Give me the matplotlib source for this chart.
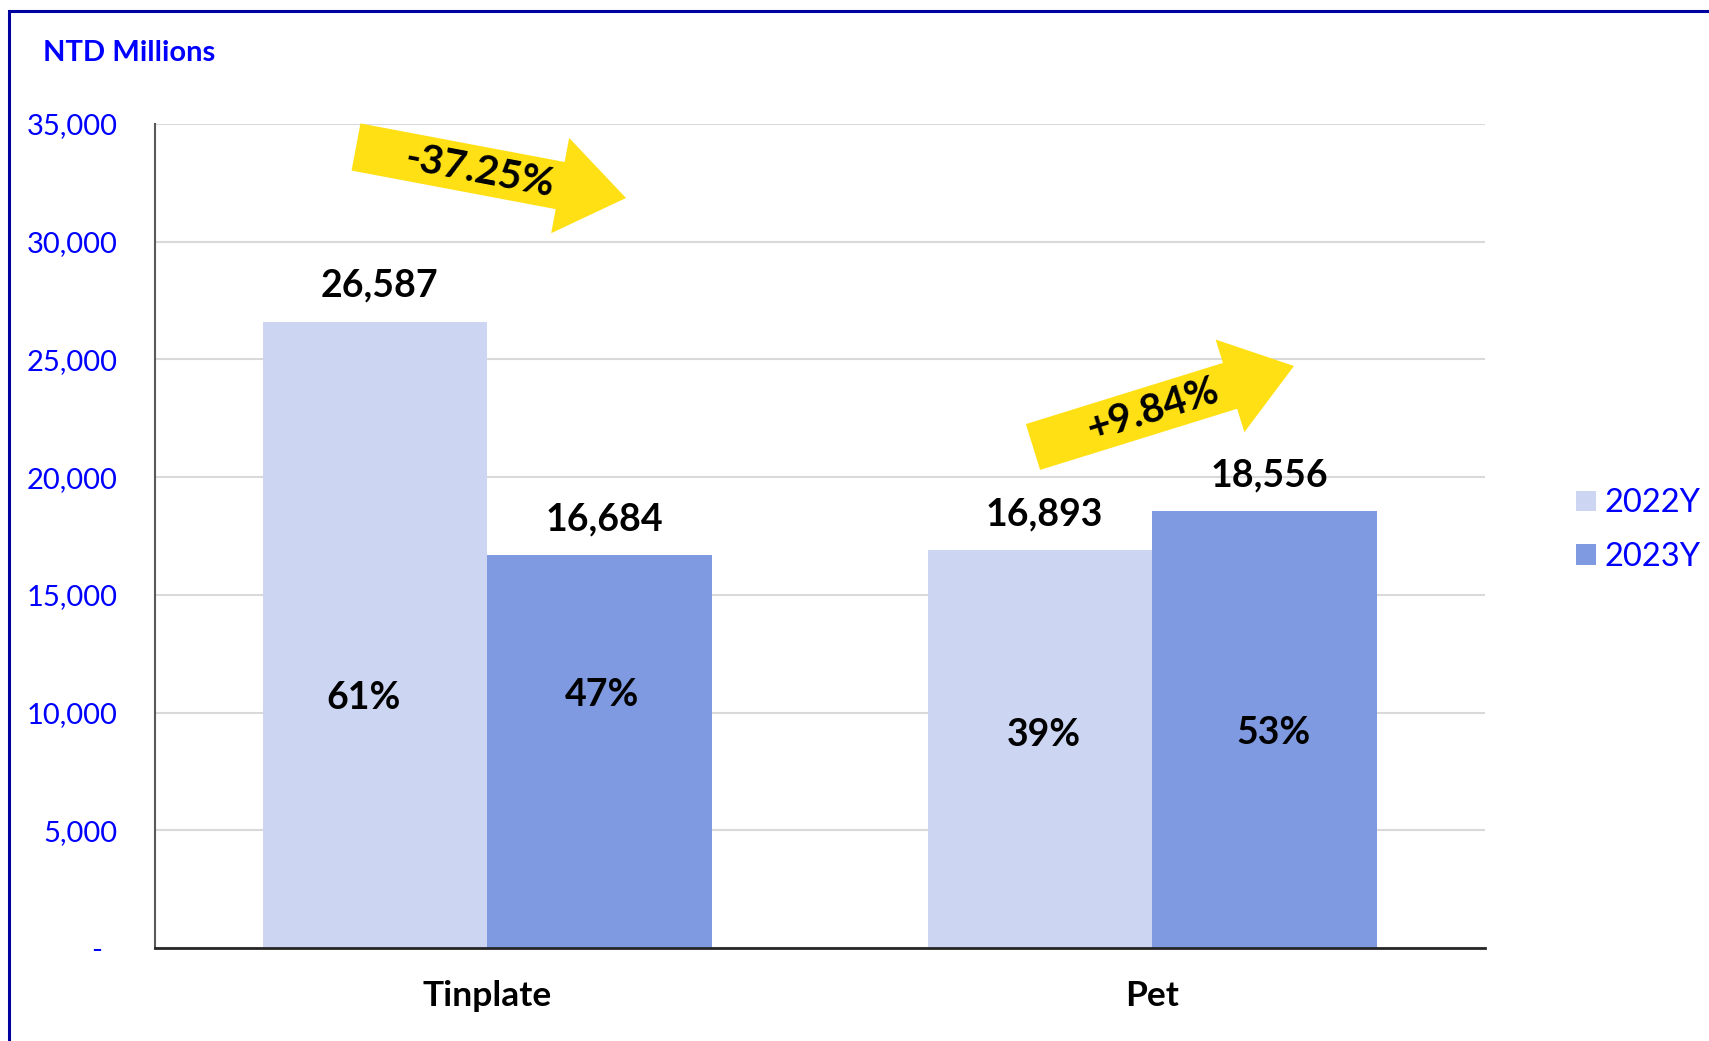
import matplotlib
matplotlib.use("Agg")
import matplotlib.pyplot as plt
import numpy as np
from matplotlib.patches import Polygon, Rectangle
from matplotlib.transforms import Affine2D
from matplotlib.ticker import FuncFormatter

plt.rcParams["font.family"] = ["Lato", "DejaVu Sans"]

# data
categories = ["Tinplate", "Pet"]
years = ["2022Y", "2023Y"]
sales_2022 = [26587, 16893]
sales_2023 = [16684, 18556]
share_2022 = ["61%", "39%"]
share_2023 = ["47%", "53%"]
changes = ["-37.25%", "+9.84%"]

col_2022 = "#CCD5F2"
col_2023 = "#7F9AE0"
blue = "#0000FF"

fig = plt.figure(figsize=(17.09, 10.41), dpi=100)
ax = fig.add_axes([0.0907, 0.0893, 0.8689 - 0.0907, 0.8809 - 0.0893])

x = np.arange(len(categories))
w = 0.338
b1 = ax.bar(x - w / 2, sales_2022, w, color=col_2022, label=years[0], zorder=2)
b2 = ax.bar(x + w / 2, sales_2023, w, color=col_2023, label=years[1], zorder=2)

ax.set_xlim(-0.5, 1.5)
ax.set_ylim(0, 35000)
ax.set_yticks(np.arange(0, 35001, 5000))
ax.yaxis.set_major_formatter(FuncFormatter(lambda v, p: "-  " if v == 0 else f"{v:,.0f}"))
ax.tick_params(axis="y", length=0, pad=27, labelsize=21, labelcolor=blue)
ax.set_xticks(x)
ax.set_xticklabels(categories, fontsize=25.5, fontweight="bold")
ax.tick_params(axis="x", length=0, pad=23)
ax.grid(axis="y", color="#D9D9D9", lw=1.5, zorder=0)
for s in ["top", "right"]:
    ax.spines[s].set_visible(False)
ax.spines["left"].set_color("#595959")
ax.spines["left"].set_linewidth(1.5)
ax.spines["bottom"].set_color("#262626")
ax.spines["bottom"].set_linewidth(2)

# value labels above bars
for bars in (b1, b2):
    for r in bars:
        h = r.get_height()
        ax.annotate(f"{h:,.0f}", (r.get_x() + r.get_width() / 2, h), xytext=(3, 26),
                    textcoords="offset points", ha="center", va="center",
                    fontsize=27, fontweight="bold")

# share labels inside bars
pct_y = [[10630, 9030], [10730, 9130]]
pct_dx = [[-0.018, 0.005], [0.003, 0.013]]
for i, (bars, labels) in enumerate(((b1, share_2022), (b2, share_2023))):
    for j, (r, t) in enumerate(zip(bars, labels)):
        ax.text(r.get_x() + r.get_width() / 2 + pct_dx[i][j], pct_y[i][j], t,
                ha="center", va="center", fontsize=27, fontweight="bold", zorder=3)

# fat yellow arrows, drawn in pixel space
px = Affine2D().scale(1 / fig.dpi) + fig.dpi_scale_trans


def fat_arrow(x0, y0, x1, y1, sw=48, hw=97, hl=67):
    d = np.array([x1 - x0, y1 - y0], float)
    L = np.hypot(*d)
    u = d / L
    n = np.array([-u[1], u[0]])
    p0 = np.array([x0, y0], float)
    base = p0 + u * (L - hl)
    pts = [p0 + n * sw / 2, base + n * sw / 2, base + n * hw / 2, p0 + d,
           base - n * hw / 2, base - n * sw / 2, p0 - n * sw / 2]
    fig.patches.append(Polygon(pts, closed=True, facecolor="#FFE015", edgecolor="none",
                               transform=px, zorder=5))
    return np.degrees(np.arctan2(d[1], d[0]))


arrows = [((356, 894, 626, 843), (480, 869)), ((1033, 594, 1294, 675), (1153, 631))]
for (coords, tpos), label in zip(arrows, changes):
    ang = fat_arrow(*coords)
    fig.text(tpos[0], tpos[1], label, transform=px, rotation=ang, rotation_mode="anchor",
             ha="center", va="center", fontsize=29, fontweight="bold", zorder=6)

fig.text(43 / 1709, 1 - 53 / 1041, "NTD Millions", color=blue, fontsize=21,
         fontweight="bold", ha="left", va="center")

leg = ax.legend(loc="center left", bbox_to_anchor=(1.059, 0.507), frameon=False,
                fontsize=23.5, labelcolor=blue, handlelength=0.6, handleheight=0.6,
                handletextpad=0.25, labelspacing=0.72, borderaxespad=0)

# outer frame
fig.patches.append(Rectangle((9 / 1709, -0.1), 1.2, 1 - 11 / 1041 + 0.1, transform=fig.transFigure,
                             fill=False, edgecolor="#0000A0", lw=2.2, zorder=10))

fig.savefig("out.png", dpi=100)
